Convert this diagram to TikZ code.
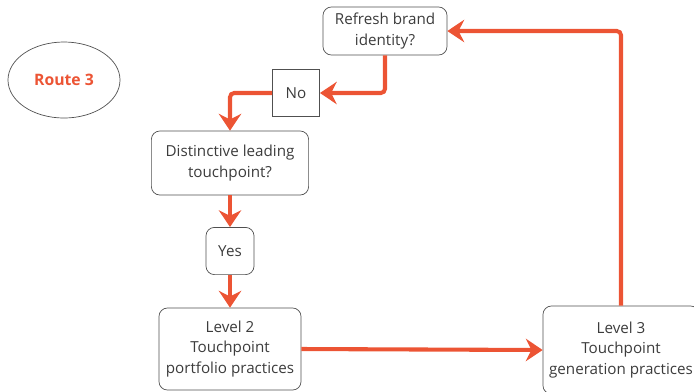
\documentclass[tikz,border=0pt]{standalone}
\usepackage{xcolor}
\usepackage{tikz}
\usepackage{fontspec}
\setmainfont{Open Sans}
\usetikzlibrary{arrows.meta,shapes.geometric}
\definecolor{routeorange}{RGB}{236,84,52}
\definecolor{boxline}{RGB}{80,80,80}
\definecolor{boxtext}{RGB}{60,60,60}

\begin{document}
\begin{tikzpicture}[x=0.025cm, y=-0.025cm,
    box/.style={draw=boxline, line width=0.5pt, rounded corners=6pt, align=center, text=boxtext, font=\fontsize{10.8}{14.8}\selectfont, inner sep=0pt},
    flow/.style={draw=routeorange, line width=2.9pt, rounded corners=3pt, -{Stealth[length=4.2mm, width=5.6mm, inset=1.4mm]}}]
            \useasboundingbox (0,0) rectangle (694,391);
            \clip (0,0) rectangle (694,391);

            % Route label
            \node[draw=boxline, line width=0.5pt, ellipse, minimum width=2.8cm, minimum height=1.9cm, text=routeorange, font=\fontsize{11.2}{13}\selectfont\bfseries] (route) at (64,80) {Route 3};

            % Refresh question
            \node[box, minimum width=3.1cm, minimum height=1.2cm] (refresh) at (385,31) {Refresh brand\\identity?};

            % No answer
            \node[box, rounded corners=0pt, minimum width=1.18cm, minimum height=1.18cm] (no) at (296,93) {No};

            % Distinctive question
            \node[box, minimum width=3.93cm, minimum height=1.6cm] (distinct) at (230,163) {Distinctive leading\\touchpoint?};

            % Yes answer
            \node[box, minimum width=1.2cm, minimum height=1.18cm] (yes) at (230,251) {Yes};

            % Level 2
            \node[box, minimum width=3.55cm, minimum height=2.05cm] (level2) at (230,349) {Level 2\\Touchpoint\\portfolio practices};

            % Level 3
            \node[box, minimum width=3.9cm, minimum height=2.2cm] (level3) at (621,350) {Level 3\\Touchpoint\\generation practices};

            % Arrows
            \draw[flow] (refresh.south) |- (no.east);
            \draw[flow] (no.west) -| (distinct.north);
            \draw[flow] (distinct.south) -- (yes.north);
            \draw[flow] (yes.south) -- (level2.north);
            \draw[flow] (level2.east) -- (level3.west);
            \draw[flow] (level3.north) |- (refresh.east);
        \end{tikzpicture}
\end{document}
